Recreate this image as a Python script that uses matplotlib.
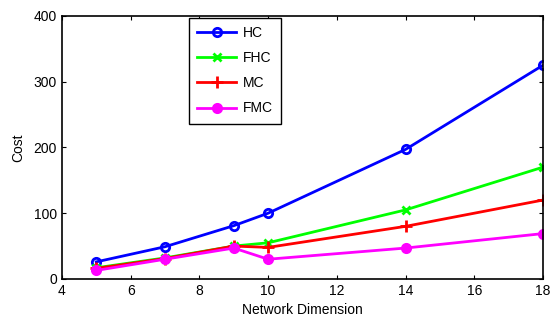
import matplotlib.pyplot as plt

plt.rcParams["font.family"] = ["Liberation Sans", "DejaVu Sans"]

# data
dims = [5, 7, 9, 10, 14, 18]
hc = [26, 49, 81, 100, 197, 325]
fhc = [17, 32, 50, 55, 105, 170]
mc = [16, 31, 50, 48, 80, 120]
fmc = [13, 30, 47, 30, 47, 69]

fig = plt.figure(figsize=(5.53, 3.24), dpi=100)
ax = fig.add_axes([0.112, 0.139, 0.870, 0.812])

ax.plot(dims, hc, color="#0000ff", lw=2, marker="o", mfc="none", mew=2, ms=6, label="HC")
ax.plot(dims, fhc, color="#00ff00", lw=2, marker="x", mew=2, ms=6, label="FHC")
ax.plot(dims, mc, color="#ff0000", lw=2, marker="+", mew=2, ms=8, label="MC")
ax.plot(dims, fmc, color="#ff00ff", lw=2, marker="o", mew=2, ms=6, label="FMC")

ax.set_xlim(4, 18)
ax.set_ylim(0, 400)
ax.set_xticks(range(4, 19, 2))
ax.set_yticks(range(0, 401, 100))
ax.tick_params(direction="in", top=True, right=True, labelsize=10, length=3)
for s in ax.spines.values():
    s.set_linewidth(1.2)

ax.set_xlabel("Network Dimension", fontsize=10, labelpad=4)
ax.set_ylabel("Cost", fontsize=10, labelpad=6)

leg = ax.legend(loc="upper left", bbox_to_anchor=(0.264, 0.993), borderaxespad=0,
                fontsize=10, fancybox=False, edgecolor="black", framealpha=1,
                handlelength=2.8, borderpad=0.6, labelspacing=0.8, handletextpad=0.5)
leg.get_frame().set_linewidth(1.0)

fig.savefig("out.png", dpi=100)
